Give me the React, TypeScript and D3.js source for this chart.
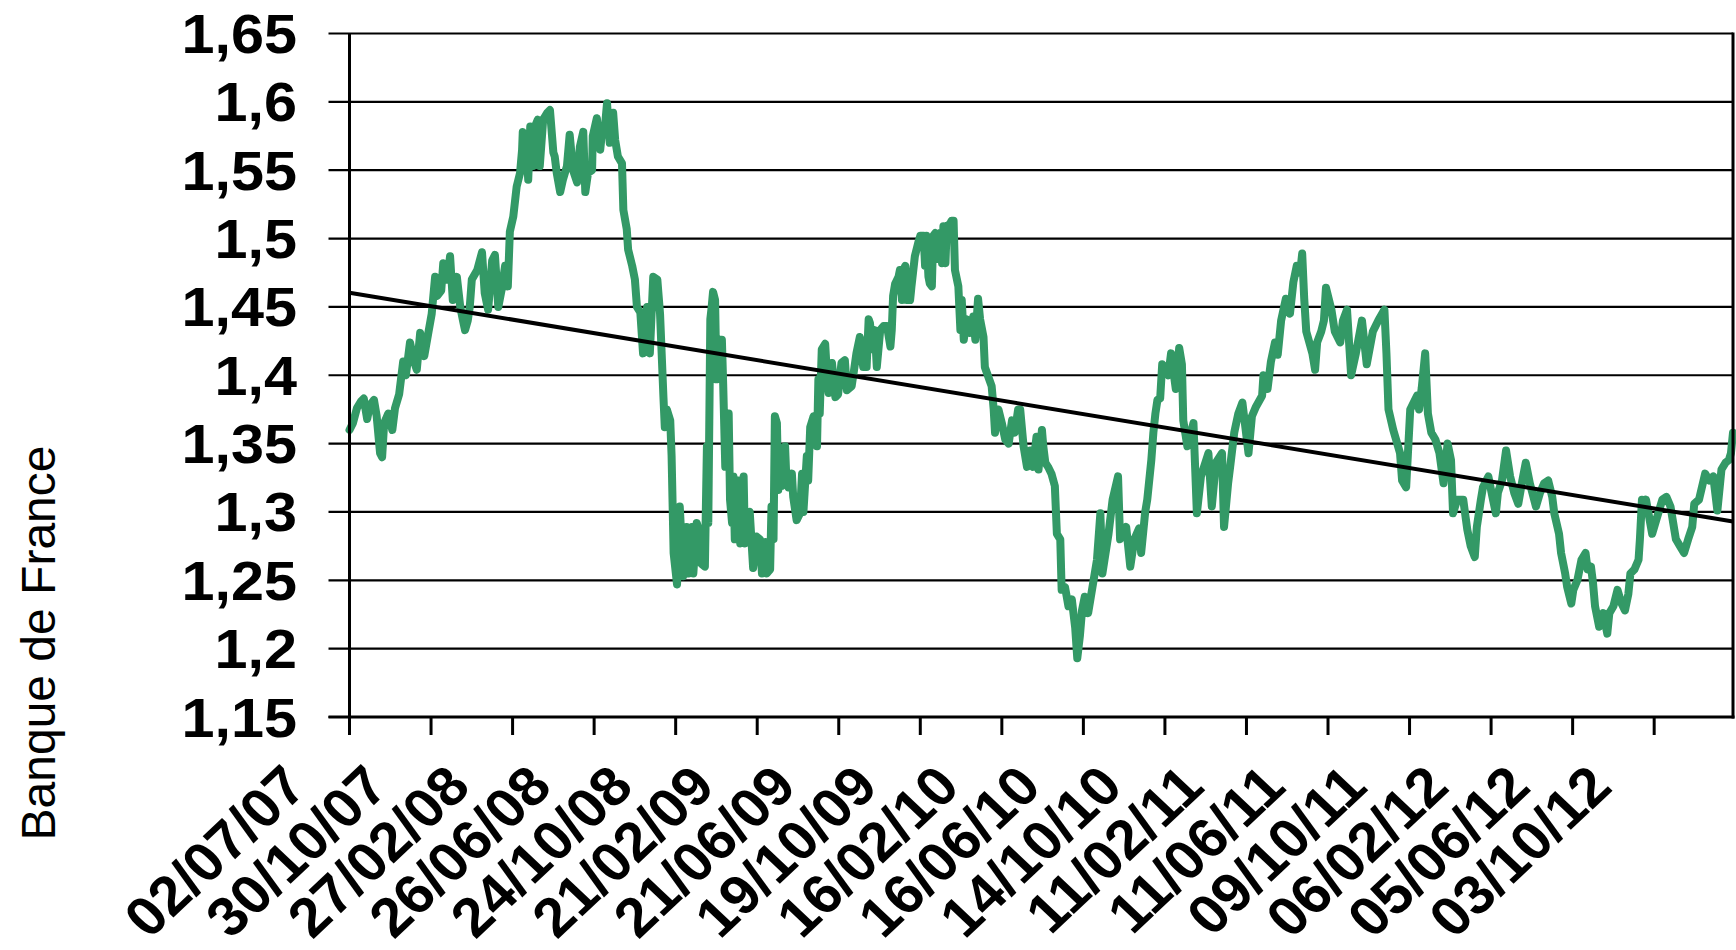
import React from 'react';
import * as d3 from 'd3';

// Tick labels on the category axis (every 120 days from 02/07/07)
const tickLabels: string[] = [
  '02/07/07', '30/10/07', '27/02/08', '26/06/08', '24/10/08', '21/02/09',
  '21/06/09', '19/10/09', '16/02/10', '16/06/10', '14/10/10', '11/02/11',
  '11/06/11', '09/10/11', '06/02/12', '05/06/12', '03/10/12',
];
const tickStepDays = 120;
const lastDay = 2036;

const yTicks: number[] = [1.15, 1.2, 1.25, 1.3, 1.35, 1.4, 1.45, 1.5, 1.55, 1.6, 1.65];

// Linear trend: value at first day and at last day
const trendValues: number[] = [1.4604, 1.293];

// [days since 02/07/07, EUR/USD]
const rateSeries: [number, number][] = [
  [0,1.36],[5,1.365],[11,1.376],[17,1.381],[21,1.383],[26,1.368],[30,1.378],[36,1.382],[40,1.37],[45,1.343],[48,1.34],[51,1.365],[57,1.372],[63,1.36],[67,1.376],[73,1.386],[79,1.41],[83,1.40],[89,1.424],[95,1.41],[99,1.404],[104,1.431],[110,1.414],[116,1.431],[121,1.445],[126,1.472],[129,1.458],[135,1.462],[138,1.482],[144,1.47],[148,1.487],[152,1.455],[158,1.472],[163,1.45],[167,1.44],[170,1.433],[174,1.44],[177,1.45],[180,1.47],[188,1.477],[195,1.49],[199,1.46],[204,1.448],[210,1.484],[214,1.488],[219,1.45],[224,1.463],[229,1.48],[233,1.465],[236,1.505],[241,1.516],[246,1.538],[251,1.548],[254,1.565],[255,1.578],[260,1.572],[263,1.543],[266,1.582],[270,1.553],[273,1.582],[277,1.587],[280,1.553],[285,1.587],[291,1.592],[295,1.594],[300,1.563],[302,1.56],[305,1.548],[310,1.534],[314,1.543],[320,1.553],[324,1.576],[329,1.55],[335,1.541],[339,1.567],[344,1.578],[347,1.534],[351,1.548],[357,1.55],[358,1.575],[364,1.588],[369,1.565],[372,1.58],[376,1.582],[379,1.599],[383,1.57],[388,1.592],[391,1.572],[395,1.56],[401,1.555],[403,1.521],[408,1.507],[410,1.492],[416,1.48],[420,1.47],[423,1.45],[428,1.446],[432,1.416],[438,1.45],[442,1.416],[447,1.472],[453,1.47],[457,1.445],[462,1.384],[464,1.362],[467,1.375],[472,1.367],[474,1.341],[477,1.27],[482,1.247],[486,1.304],[489,1.275],[491,1.253],[496,1.289],[499,1.255],[504,1.289],[506,1.255],[511,1.292],[516,1.284],[518,1.262],[523,1.26],[526,1.348],[528,1.292],[531,1.441],[533,1.45],[535,1.461],[538,1.455],[540,1.397],[545,1.426],[548,1.426],[550,1.392],[553,1.333],[558,1.372],[560,1.309],[563,1.292],[565,1.326],[567,1.28],[572,1.323],[575,1.277],[580,1.326],[582,1.277],[587,1.299],[589,1.30],[594,1.259],[599,1.282],[604,1.28],[607,1.255],[612,1.278],[614,1.255],[619,1.258],[621,1.304],[624,1.28],[626,1.37],[629,1.365],[631,1.316],[634,1.345],[636,1.319],[641,1.348],[643,1.323],[646,1.318],[651,1.328],[653,1.311],[658,1.294],[663,1.299],[666,1.328],[668,1.30],[673,1.341],[675,1.323],[678,1.362],[683,1.37],[688,1.348],[690,1.397],[692,1.372],[695,1.419],[700,1.423],[702,1.406],[705,1.387],[710,1.409],[715,1.384],[719,1.386],[724,1.409],[729,1.411],[732,1.389],[739,1.392],[742,1.402],[746,1.416],[751,1.428],[756,1.406],[761,1.406],[764,1.441],[766,1.438],[769,1.419],[773,1.433],[776,1.406],[781,1.433],[786,1.436],[791,1.436],[796,1.421],[798,1.433],[800,1.458],[803,1.467],[808,1.472],[810,1.477],[813,1.455],[815,1.477],[818,1.48],[820,1.455],[825,1.455],[827,1.465],[832,1.487],[837,1.497],[840,1.502],[845,1.502],[847,1.48],[849,1.502],[852,1.472],[854,1.467],[857,1.465],[859,1.502],[862,1.504],[864,1.485],[869,1.504],[872,1.482],[874,1.509],[877,1.482],[879,1.509],[884,1.511],[886,1.513],[889,1.513],[891,1.477],[896,1.465],[899,1.433],[901,1.455],[904,1.426],[908,1.441],[913,1.431],[918,1.443],[921,1.426],[925,1.456],[928,1.441],[933,1.428],[935,1.406],[940,1.399],[945,1.392],[948,1.375],[950,1.358],[955,1.375],[960,1.365],[965,1.353],[970,1.35],[975,1.367],[979,1.358],[984,1.375],[987,1.375],[992,1.348],[997,1.333],[1002,1.345],[1006,1.333],[1011,1.355],[1014,1.331],[1019,1.36],[1021,1.348],[1024,1.336],[1028,1.333],[1033,1.328],[1038,1.319],[1041,1.284],[1046,1.28],[1048,1.243],[1053,1.245],[1058,1.231],[1063,1.236],[1068,1.215],[1071,1.193],[1075,1.21],[1078,1.228],[1082,1.238],[1087,1.226],[1095,1.25],[1100,1.265],[1105,1.299],[1108,1.255],[1117,1.284],[1123,1.309],[1131,1.326],[1134,1.28],[1143,1.289],[1149,1.26],[1155,1.28],[1162,1.288],[1165,1.27],[1171,1.30],[1174,1.309],[1180,1.338],[1183,1.358],[1186,1.372],[1189,1.382],[1193,1.383],[1196,1.408],[1205,1.40],[1209,1.416],[1216,1.39],[1221,1.42],[1225,1.408],[1227,1.367],[1233,1.348],[1242,1.365],[1247,1.299],[1253,1.326],[1264,1.343],[1269,1.304],[1275,1.336],[1284,1.343],[1287,1.289],[1293,1.321],[1296,1.333],[1302,1.358],[1308,1.372],[1314,1.38],[1323,1.343],[1328,1.37],[1334,1.377],[1343,1.385],[1345,1.40],[1351,1.39],[1356,1.41],[1362,1.424],[1366,1.415],[1371,1.44],[1378,1.456],[1384,1.445],[1389,1.468],[1394,1.48],[1399,1.475],[1402,1.489],[1405,1.456],[1408,1.432],[1417,1.416],[1421,1.404],[1424,1.424],[1430,1.432],[1434,1.44],[1437,1.464],[1445,1.448],[1450,1.432],[1458,1.424],[1462,1.44],[1468,1.448],[1474,1.40],[1481,1.416],[1490,1.44],[1497,1.408],[1506,1.432],[1514,1.44],[1523,1.448],[1526,1.416],[1529,1.375],[1536,1.36],[1546,1.343],[1549,1.323],[1555,1.318],[1561,1.375],[1571,1.385],[1574,1.375],[1578,1.391],[1583,1.416],[1587,1.372],[1592,1.358],[1598,1.353],[1604,1.343],[1610,1.321],[1616,1.35],[1621,1.338],[1624,1.299],[1630,1.309],[1639,1.309],[1645,1.287],[1650,1.275],[1656,1.267],[1659,1.289],[1665,1.309],[1668,1.318],[1676,1.326],[1682,1.311],[1687,1.299],[1690,1.314],[1696,1.323],[1702,1.345],[1708,1.326],[1714,1.314],[1720,1.306],[1726,1.323],[1731,1.336],[1737,1.321],[1746,1.304],[1752,1.314],[1758,1.321],[1764,1.323],[1770,1.311],[1773,1.299],[1780,1.284],[1783,1.27],[1789,1.255],[1792,1.245],[1798,1.233],[1801,1.243],[1807,1.25],[1813,1.265],[1819,1.27],[1822,1.258],[1827,1.26],[1830,1.248],[1833,1.231],[1839,1.216],[1845,1.226],[1851,1.211],[1854,1.226],[1860,1.231],[1866,1.243],[1872,1.233],[1877,1.228],[1882,1.24],[1885,1.255],[1891,1.258],[1897,1.265],[1899,1.28],[1902,1.309],[1905,1.30],[1908,1.309],[1917,1.284],[1923,1.294],[1932,1.309],[1938,1.311],[1944,1.304],[1952,1.28],[1958,1.275],[1964,1.27],[1970,1.28],[1976,1.289],[1979,1.306],[1986,1.309],[1995,1.328],[2001,1.323],[2007,1.326],[2013,1.301],[2019,1.331],[2025,1.336],[2030,1.338],[2033,1.343],[2036,1.358],
];

const FONT = "'Liberation Sans', Arial, sans-serif";
const GREEN = '#339966';

export default function App() {
  const W = 1736;
  const H = 950;
  const left = 349.5;
  const right = 1733;
  const top = 33.5;
  const bottom = 717;
  const yStretch = 1.06;
  const xStretch = 1.06;

  const x = d3.scaleLinear().domain([0, lastDay]).range([left, right]);
  const y = d3.scaleLinear().domain([1.15, 1.65]).range([bottom, top]);

  const line = d3
    .line<[number, number]>()
    .x((d) => x(d[0]))
    .y((d) => y(d[1]));

  const trendLine = d3
    .line<number>()
    .x((_, i) => x(i === 0 ? 0 : lastDay))
    .y((d) => y(d));

  const tickDays = tickLabels.map((_, i) => i * tickStepDays);

  return (
    <svg
      width={W}
      height={H}
      style={{ position: 'absolute', left: 0, top: 0, background: '#fff' }}
      fontFamily={FONT}
    >
      <rect x={0} y={0} width={W} height={H} fill="#fff" />
      {/* horizontal gridlines with left tick marks */}
      {yTicks.map((t) => (
        <line
          key={'g' + t}
          x1={left - 21}
          x2={right}
          y1={y(t)}
          y2={y(t)}
          stroke="#000"
          strokeWidth={2.2}
        />
      ))}
      {/* y tick labels */}
      {yTicks.map((t) => (
        <text
          key={'yl' + t}
          transform={`translate(297, ${y(t) + 19.5}) scale(${yStretch},1)`}
          textAnchor="end"
          fontSize={56}
          fontWeight="bold"
          fill="#000"
        >
          {String(t).replace('.', ',')}
        </text>
      ))}
      {/* data line */}
      <path
        d={line(rateSeries) || ''}
        fill="none"
        stroke={GREEN}
        strokeWidth={8}
        strokeLinejoin="round"
        strokeLinecap="round"
      />
      {/* trend line */}
      <path
        d={trendLine(trendValues) || ''}
        fill="none"
        stroke="#000"
        strokeWidth={4}
      />
      {/* axes */}
      <line x1={left} x2={left} y1={top} y2={bottom} stroke="#000" strokeWidth={3} />
      <line x1={right} x2={right} y1={top - 1} y2={bottom + 1.5} stroke="#000" strokeWidth={3} />
      <line x1={left - 21} x2={right + 1.5} y1={bottom} y2={bottom} stroke="#000" strokeWidth={3} />
      {tickDays.map((d) => (
        <line key={'xt' + d} x1={x(d)} x2={x(d)} y1={bottom} y2={bottom + 18} stroke="#000" strokeWidth={3} />
      ))}
      {/* x tick labels */}
      {tickLabels.map((lab, i) => (
        <text
          key={'xl' + lab}
          transform={`translate(${x(tickDays[i]) - 40}, ${bottom + 72}) scale(${xStretch},1) rotate(-45)`}
          textAnchor="end"
          fontSize={55}
          fontWeight="bold"
          fill="#000"
        >
          {lab}
        </text>
      ))}
      {/* y axis title */}
      <text
        transform={`translate(54.5, 643) rotate(-90)`}
        textAnchor="middle"
        fontSize={48}
        fill="#000"
      >
        Banque de France
      </text>
    </svg>
  );
}
